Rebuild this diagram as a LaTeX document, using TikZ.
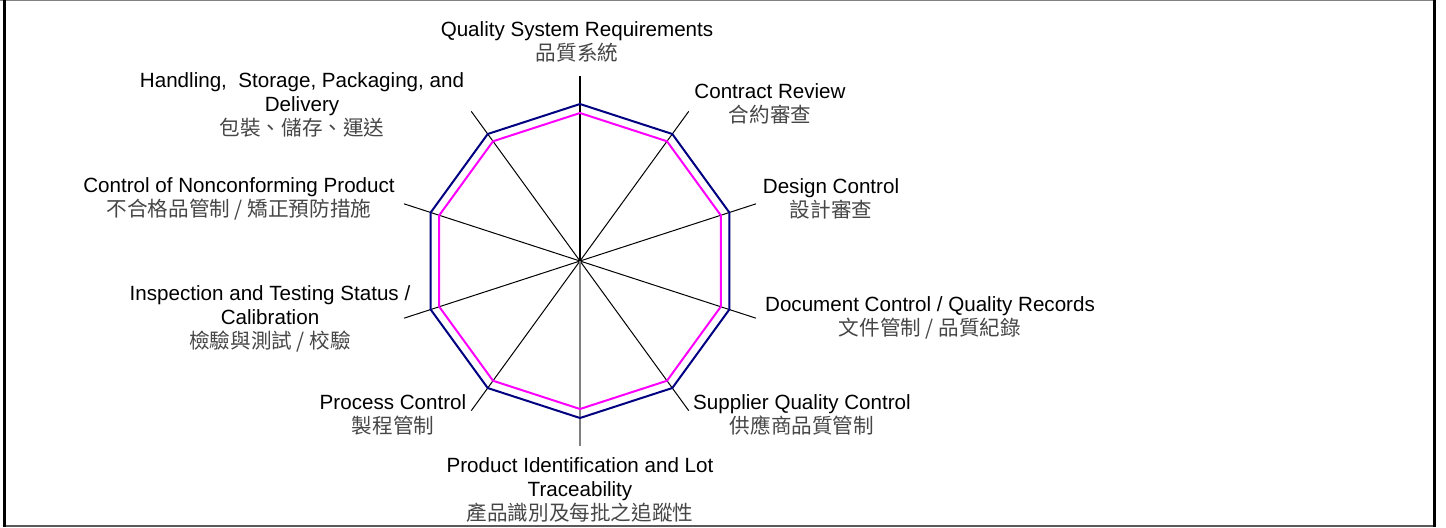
\documentclass[tikz,border=0pt]{standalone}
\usepackage{fontspec}
\setmainfont{Liberation Sans}
\newfontfamily\cjk{Noto Sans CJK TC}
\definecolor{navyline}{RGB}{0,0,128}
\definecolor{pinkline}{RGB}{255,0,255}
\definecolor{cjkgray}{RGB}{70,70,70}
\definecolor{framegray}{RGB}{128,128,128}
\newcommand{\zh}[1]{{\cjk\color{cjkgray}#1}}
\tikzset{
  lbl/.style={align=center, inner sep=0pt, font=\fontsize{10.3}{12}\selectfont, text=black},
  spoke/.style={draw=black, line width=0.5pt},
  series/.style={line width=1pt, line join=miter},
}
\begin{document}
\begin{tikzpicture}[x=0.5pt,y=-0.5pt]
\useasboundingbox (0,0) rectangle (1446,527);
% frame
\draw[framegray, line width=0.6pt] (0,0.6) -- (1436,0.6);
\draw[framegray!70!black, line width=0.8pt] (3,525.8) -- (1436,525.8);
\draw[black, line width=1.6pt] (4.6,0) -- (4.6,527);
\draw[black, line width=1.6pt] (1434.4,0) -- (1434.4,527);
% center and spoke ends
\coordinate (c) at (580,261);
\foreach \i in {0,...,9} {
  \coordinate (s\i) at ([shift={(580,261)}]{-90+36*\i}:185);
  \coordinate (n\i) at ([shift={(580,261)}]{-90+36*\i}:157);
  \coordinate (p\i) at ([shift={(580,261)}]{-90+36*\i}:148);
}
% spokes
\foreach \i in {1,2,3,4,6,7,8,9} { \draw[spoke] (c) -- (s\i); }
\draw[black, line width=1pt] (c) -- (s0);
\draw[gray, line width=1pt] (c) -- (s5);
% series
\draw[series, navyline] (n0) -- (n1) -- (n2) -- (n3) -- (n4) -- (n5) -- (n6) -- (n7) -- (n8) -- (n9) -- cycle;
\draw[series, pinkline] (p0) -- (p1) -- (p2) -- (p3) -- (p4) -- (p5) -- (p6) -- (p7) -- (p8) -- (p9) -- cycle;
% labels
\node[lbl] (l0) at (577,42) {Quality System Requirements\\ \zh{品質系統}};
\node[lbl] (l1) at (770,104) {Contract Review\\ \zh{合約審查}};
\node[lbl] (l2) at (831,199) {Design Control\\ \zh{設計審查}};
\node[lbl] (l3) at (930,318) {Document Control / Quality Records\\ \zh{文件管制 / 品質紀錄}};
\node[lbl] (l4) at (802,415) {Supplier Quality Control\\ \zh{供應商品質管制}};
\node[lbl] (l5) at (580,490) {Product Identification and Lot\\ Traceability\\ \zh{產品識別及每批之追蹤性}};
\node[lbl] (l6) at (393,415) {Process Control\\ \zh{製程管制}};
\node[lbl] (l7) at (270,319) {Inspection and Testing Status /\\ Calibration\\ \zh{檢驗與測試 / 校驗}};
\node[lbl] (l8) at (239,199) {Control of Nonconforming Product\\ \zh{不合格品管制 / 矯正預防措施}};
\node[lbl] (l9) at (302,105) {Handling,\ \ Storage, Packaging, and\\ Delivery\\ \zh{包裝、儲存、運送}};
\end{tikzpicture}
\end{document}
